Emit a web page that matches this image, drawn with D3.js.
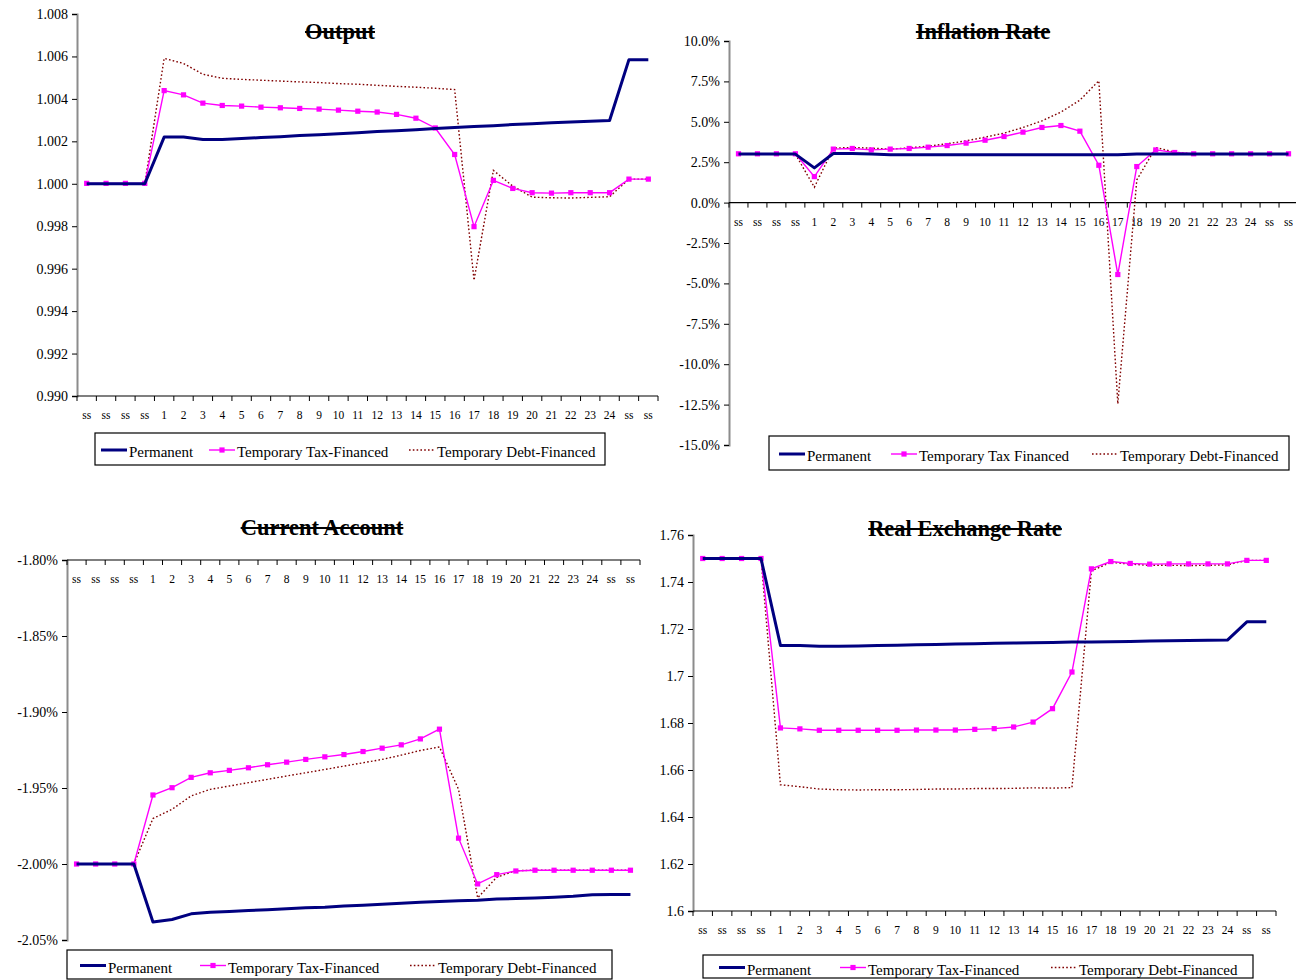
<!DOCTYPE html>
<html>
<head>
<meta charset="utf-8">
<script src="https://cdn.jsdelivr.net/npm/d3@7"></script>
<style>
  html, body { margin: 0; padding: 0; background: #fff; }
  svg { display: block; font-family: "Liberation Serif", "Times New Roman", serif; }
</style>
</head>
<body>
<svg id="chart" width="1296" height="980"></svg>
<script>
// Period labels: four steady-state periods, 24 simulation periods, two steady-state periods
const periods = ["ss","ss","ss","ss","1","2","3","4","5","6","7","8","9","10","11","12",
  "13","14","15","16","17","18","19","20","21","22","23","24","ss","ss"];

const seriesNames = ["Permanent", "Temporary Tax-Financed", "Temporary Debt-Financed"];
const seriesNamesInflation = ["Permanent", "Temporary Tax Financed", "Temporary Debt-Financed"];

// Output
const outputTicks = [0.990, 0.992, 0.994, 0.996, 0.998, 1.000, 1.002, 1.004, 1.006, 1.008];
const outputPermanent = [1.0000,1.0000,1.0000,1.0000,1.0022,1.0022,1.00209,1.00209,1.00213,1.00218,
  1.00222,1.00227,1.00231,1.00236,1.00241,1.00246,1.0025,1.00255,1.0026,1.00265,1.0027,1.00274,
  1.00279,1.00283,1.00287,1.00291,1.00295,1.00298,1.00585,1.00585];
const outputTax = [1.00002,1.00002,1.00002,1.00002,1.00439,1.00419,1.0038,1.00369,1.00366,1.00361,
  1.00358,1.00355,1.00352,1.00347,1.00342,1.00338,1.00327,1.00309,1.00263,1.00138,0.99798,1.00016,
  0.99978,0.99958,0.99956,0.99958,0.99958,0.99958,1.00022,1.00022];
const outputDebt = [1.0000,1.0000,1.0000,1.0000,1.00591,1.00567,1.00516,1.00497,1.00492,1.00488,
  1.00484,1.0048,1.00477,1.00472,1.00469,1.00464,1.00459,1.00455,1.0045,1.00444,0.99545,1.00063,
  0.99989,0.99937,0.99934,0.99933,0.99936,0.99939,1.00022,1.00022];

// Inflation rate (percent)
const inflationTicks = [-15, -12.5, -10, -7.5, -5, -2.5, 0, 2.5, 5, 7.5, 10];
const inflationPermanent = [3.0,3.0,3.0,3.0,2.15,3.04,3.04,3.0,2.96,2.96,2.96,2.96,2.96,2.96,2.96,
  2.96,2.96,2.96,2.96,2.96,2.96,3.0,3.0,3.0,3.0,3.0,3.0,3.0,3.0,3.0];
const inflationTax = [3.02,3.02,3.02,3.02,1.61,3.31,3.35,3.26,3.31,3.35,3.43,3.53,3.68,3.86,4.09,
  4.36,4.65,4.77,4.42,2.31,-4.45,2.23,3.26,3.1,3.02,3.02,3.02,3.02,3.02,3.02];
const inflationDebt = [3.0,3.0,3.0,3.0,0.95,3.37,3.41,3.37,3.31,3.39,3.49,3.64,3.82,4.05,4.3,
  4.65,5.06,5.6,6.34,7.54,-12.45,1.4,3.41,3.12,3.0,3.0,3.0,3.0,3.0,3.0];

// Current account (percent)
const currentTicks = [-2.05, -2.00, -1.95, -1.90, -1.85, -1.80];
const currentPermanent = [-2.0,-2.0,-2.0,-2.0,-2.0382,-2.0365,-2.0328,-2.0317,-2.0312,-2.0306,
  -2.0301,-2.0295,-2.0288,-2.0284,-2.0277,-2.0271,-2.0264,-2.0258,-2.0251,-2.0247,-2.0242,-2.0238,
  -2.0231,-2.0227,-2.0223,-2.0218,-2.0212,-2.0203,-2.0201,-2.0201];
const currentTax = [-2.0,-2.0,-2.0,-2.0,-1.9546,-1.9498,-1.943,-1.94,-1.9384,-1.9367,-1.9347,
  -1.933,-1.9312,-1.9295,-1.928,-1.926,-1.9238,-1.9216,-1.9177,-1.9113,-1.983,-2.0131,-2.007,
  -2.0046,-2.0041,-2.0041,-2.0041,-2.0041,-2.0041,-2.0041];
const currentDebt = [-2.0,-2.0,-2.0,-2.0,-1.9701,-1.964,-1.9552,-1.9509,-1.9487,-1.9465,-1.9443,
  -1.9421,-1.94,-1.9378,-1.9356,-1.9334,-1.9312,-1.9284,-1.9253,-1.923,-1.9509,-2.0223,-2.0087,
  -2.0044,-2.0041,-2.0041,-2.0041,-2.0041,-2.0041,-2.0041];

// Real exchange rate
const rerTicks = [1.60, 1.62, 1.64, 1.66, 1.68, 1.70, 1.72, 1.74, 1.76];
const rerPermanent = [1.750,1.750,1.750,1.750,1.713,1.713,1.7127,1.7127,1.7128,1.713,1.7131,
  1.7133,1.7134,1.7136,1.7137,1.7139,1.714,1.7142,1.7143,1.7145,1.7145,1.7146,1.7147,1.7149,
  1.715,1.7151,1.7152,1.7153,1.72305,1.72305];
const rerTax = [1.750,1.750,1.750,1.750,1.6779,1.6775,1.6769,1.6769,1.6769,1.6769,1.6769,1.677,
  1.677,1.677,1.6773,1.6776,1.6783,1.6804,1.6861,1.7017,1.7456,1.7487,1.7479,1.7476,1.7477,
  1.7477,1.7477,1.7477,1.7492,1.7492];
const rerDebt = [1.750,1.750,1.750,1.750,1.6537,1.6529,1.6519,1.6516,1.6515,1.6516,1.6516,1.6517,
  1.6519,1.6519,1.6521,1.6521,1.6522,1.6524,1.6523,1.6525,1.7447,1.7484,1.7476,1.7471,1.7471,
  1.747,1.7471,1.7473,1.7492,1.7492];

const svg = d3.select("#chart");
const colors = { permanent: "#000080", tax: "#ff00ff", debt: "#800000" };

function drawPanel(cfg) {
  const g = svg.append("g");
  const x = d3.scaleBand().domain(d3.range(periods.length)).range([cfg.left, cfg.right]);
  const y = d3.scaleLinear().domain(cfg.domain).range([cfg.bottom, cfg.top]);
  const cx = i => x(i) + x.bandwidth() / 2;

  // value axis
  const yAxis = d3.axisLeft(y).tickValues(cfg.ticks).tickFormat(cfg.format).tickSize(5).tickPadding(4);
  const ya = g.append("g").attr("transform", `translate(${cfg.left},0)`).call(yAxis);
  ya.select(".domain").attr("stroke", "#8c8c8c").attr("stroke-width", 2);
  ya.selectAll(".tick line").attr("stroke", "#000");
  ya.selectAll(".tick text").attr("font-size", 14).attr("fill", "#000")
    .style("font-family", "Liberation Serif");

  // category axis
  const axisY = cfg.axisAt === "top" ? cfg.top : (cfg.axisAt === "zero" ? y(0) : cfg.bottom);
  const xa = g.append("g").attr("transform", `translate(0,${axisY})`);
  xa.append("line").attr("x1", cfg.left).attr("x2", cfg.right).attr("y1", 0).attr("y2", 0)
    .attr("stroke", "#000").attr("stroke-width", 1.2);
  const edges = d3.range(periods.length + 1).map(i => cfg.left + i * x.step());
  xa.selectAll(".xt").data(edges).join("line").attr("class", "xt")
    .attr("x1", d => d).attr("x2", d => d).attr("y1", 0).attr("y2", 5)
    .attr("stroke", "#000").attr("stroke-width", 1);
  xa.selectAll(".xl").data(periods).join("text").attr("class", "xl")
    .attr("x", (d, i) => cx(i)).attr("y", 23).attr("text-anchor", "middle")
    .attr("font-size", 11.5).attr("fill", "#000").text(d => d);

  // series
  const line = d3.line().x((d, i) => cx(i)).y(d => y(d));
  g.append("path").datum(cfg.debt).attr("d", line).attr("fill", "none")
    .attr("stroke", colors.debt).attr("stroke-width", 1.4).attr("stroke-dasharray", "1.6,2.2");
  g.append("path").datum(cfg.tax).attr("d", line).attr("fill", "none")
    .attr("stroke", colors.tax).attr("stroke-width", 1.4);
  g.selectAll(".mk").data(cfg.tax).join("rect").attr("class", "mk")
    .attr("x", (d, i) => cx(i) - 2.6).attr("y", d => y(d) - 2.6)
    .attr("width", 5.2).attr("height", 5.2).attr("fill", colors.tax);
  g.append("path").datum(cfg.permanent).attr("d", line).attr("fill", "none")
    .attr("stroke", colors.permanent).attr("stroke-width", 3).attr("stroke-linejoin", "round");

  // title with strike line
  const t = g.append("text").attr("x", cfg.titleX).attr("y", cfg.titleY).attr("text-anchor", "middle")
    .attr("font-size", 22.5).attr("font-weight", "bold").attr("fill", "#000").text(cfg.title);
  const tw = t.node().getComputedTextLength();
  g.append("line").attr("x1", cfg.titleX - tw / 2).attr("x2", cfg.titleX + tw / 2)
    .attr("y1", cfg.titleY - 7).attr("y2", cfg.titleY - 7)
    .attr("stroke", "#000").attr("stroke-width", 2);

  // legend
  const L = cfg.legend;
  const lg = g.append("g");
  lg.append("rect").attr("x", L.x).attr("y", L.y).attr("width", L.w).attr("height", L.h)
    .attr("fill", "#fff").attr("stroke", "#000").attr("stroke-width", 1.2);
  const my = L.y + L.h / 2;
  const styles = [
    { stroke: colors.permanent, width: 3, dash: null, marker: false },
    { stroke: colors.tax, width: 1.4, dash: null, marker: true },
    { stroke: colors.debt, width: 1.4, dash: "1.6,2.2", marker: false }
  ];
  cfg.names.forEach((name, k) => {
    const sx = L.items[k];
    const s = styles[k];
    const ly = my + 1;
    lg.append("line").attr("x1", sx).attr("x2", sx + 26).attr("y1", ly).attr("y2", ly)
      .attr("stroke", s.stroke).attr("stroke-width", s.width).attr("stroke-dasharray", s.dash);
    if (s.marker) {
      lg.append("rect").attr("x", sx + 13 - 2.6).attr("y", ly - 2.6).attr("width", 5.2)
        .attr("height", 5.2).attr("fill", colors.tax);
    }
    lg.append("text").attr("x", sx + 28).attr("y", my + 8).attr("font-size", 15)
      .attr("fill", "#000").text(name);
  });
}

drawPanel({
  title: "Output", titleX: 340, titleY: 39,
  left: 77, right: 658, top: 14, bottom: 396, axisAt: "bottom",
  domain: [0.990, 1.008], ticks: outputTicks, format: d3.format(".3f"),
  permanent: outputPermanent, tax: outputTax, debt: outputDebt, names: seriesNames,
  legend: { x: 95, y: 433, w: 510, h: 32, items: [101, 209, 409] }
});

drawPanel({
  title: "Inflation Rate", titleX: 983, titleY: 39,
  left: 729, right: 1298, top: 41, bottom: 445, axisAt: "zero",
  domain: [-15, 10], ticks: inflationTicks, format: d => d.toFixed(1) + "%",
  permanent: inflationPermanent, tax: inflationTax, debt: inflationDebt, names: seriesNamesInflation,
  legend: { x: 769, y: 436, w: 520, h: 34, items: [779, 891, 1092] }
});

drawPanel({
  title: "Current Account", titleX: 322, titleY: 535,
  left: 67, right: 640, top: 560, bottom: 940, axisAt: "top",
  domain: [-2.05, -1.80], ticks: currentTicks, format: d => d.toFixed(2) + "%",
  permanent: currentPermanent, tax: currentTax, debt: currentDebt, names: seriesNames,
  legend: { x: 67, y: 950, w: 545, h: 29, items: [80, 200, 410] }
});

drawPanel({
  title: "Real Exchange Rate", titleX: 965, titleY: 536,
  left: 693, right: 1276, top: 535, bottom: 911, axisAt: "bottom",
  domain: [1.60, 1.76], ticks: rerTicks, format: d => String(+d.toFixed(2)),
  permanent: rerPermanent, tax: rerTax, debt: rerDebt, names: seriesNames,
  legend: { x: 703, y: 955, w: 550, h: 23, items: [719, 840, 1051] }
});
</script>
</body>
</html>
